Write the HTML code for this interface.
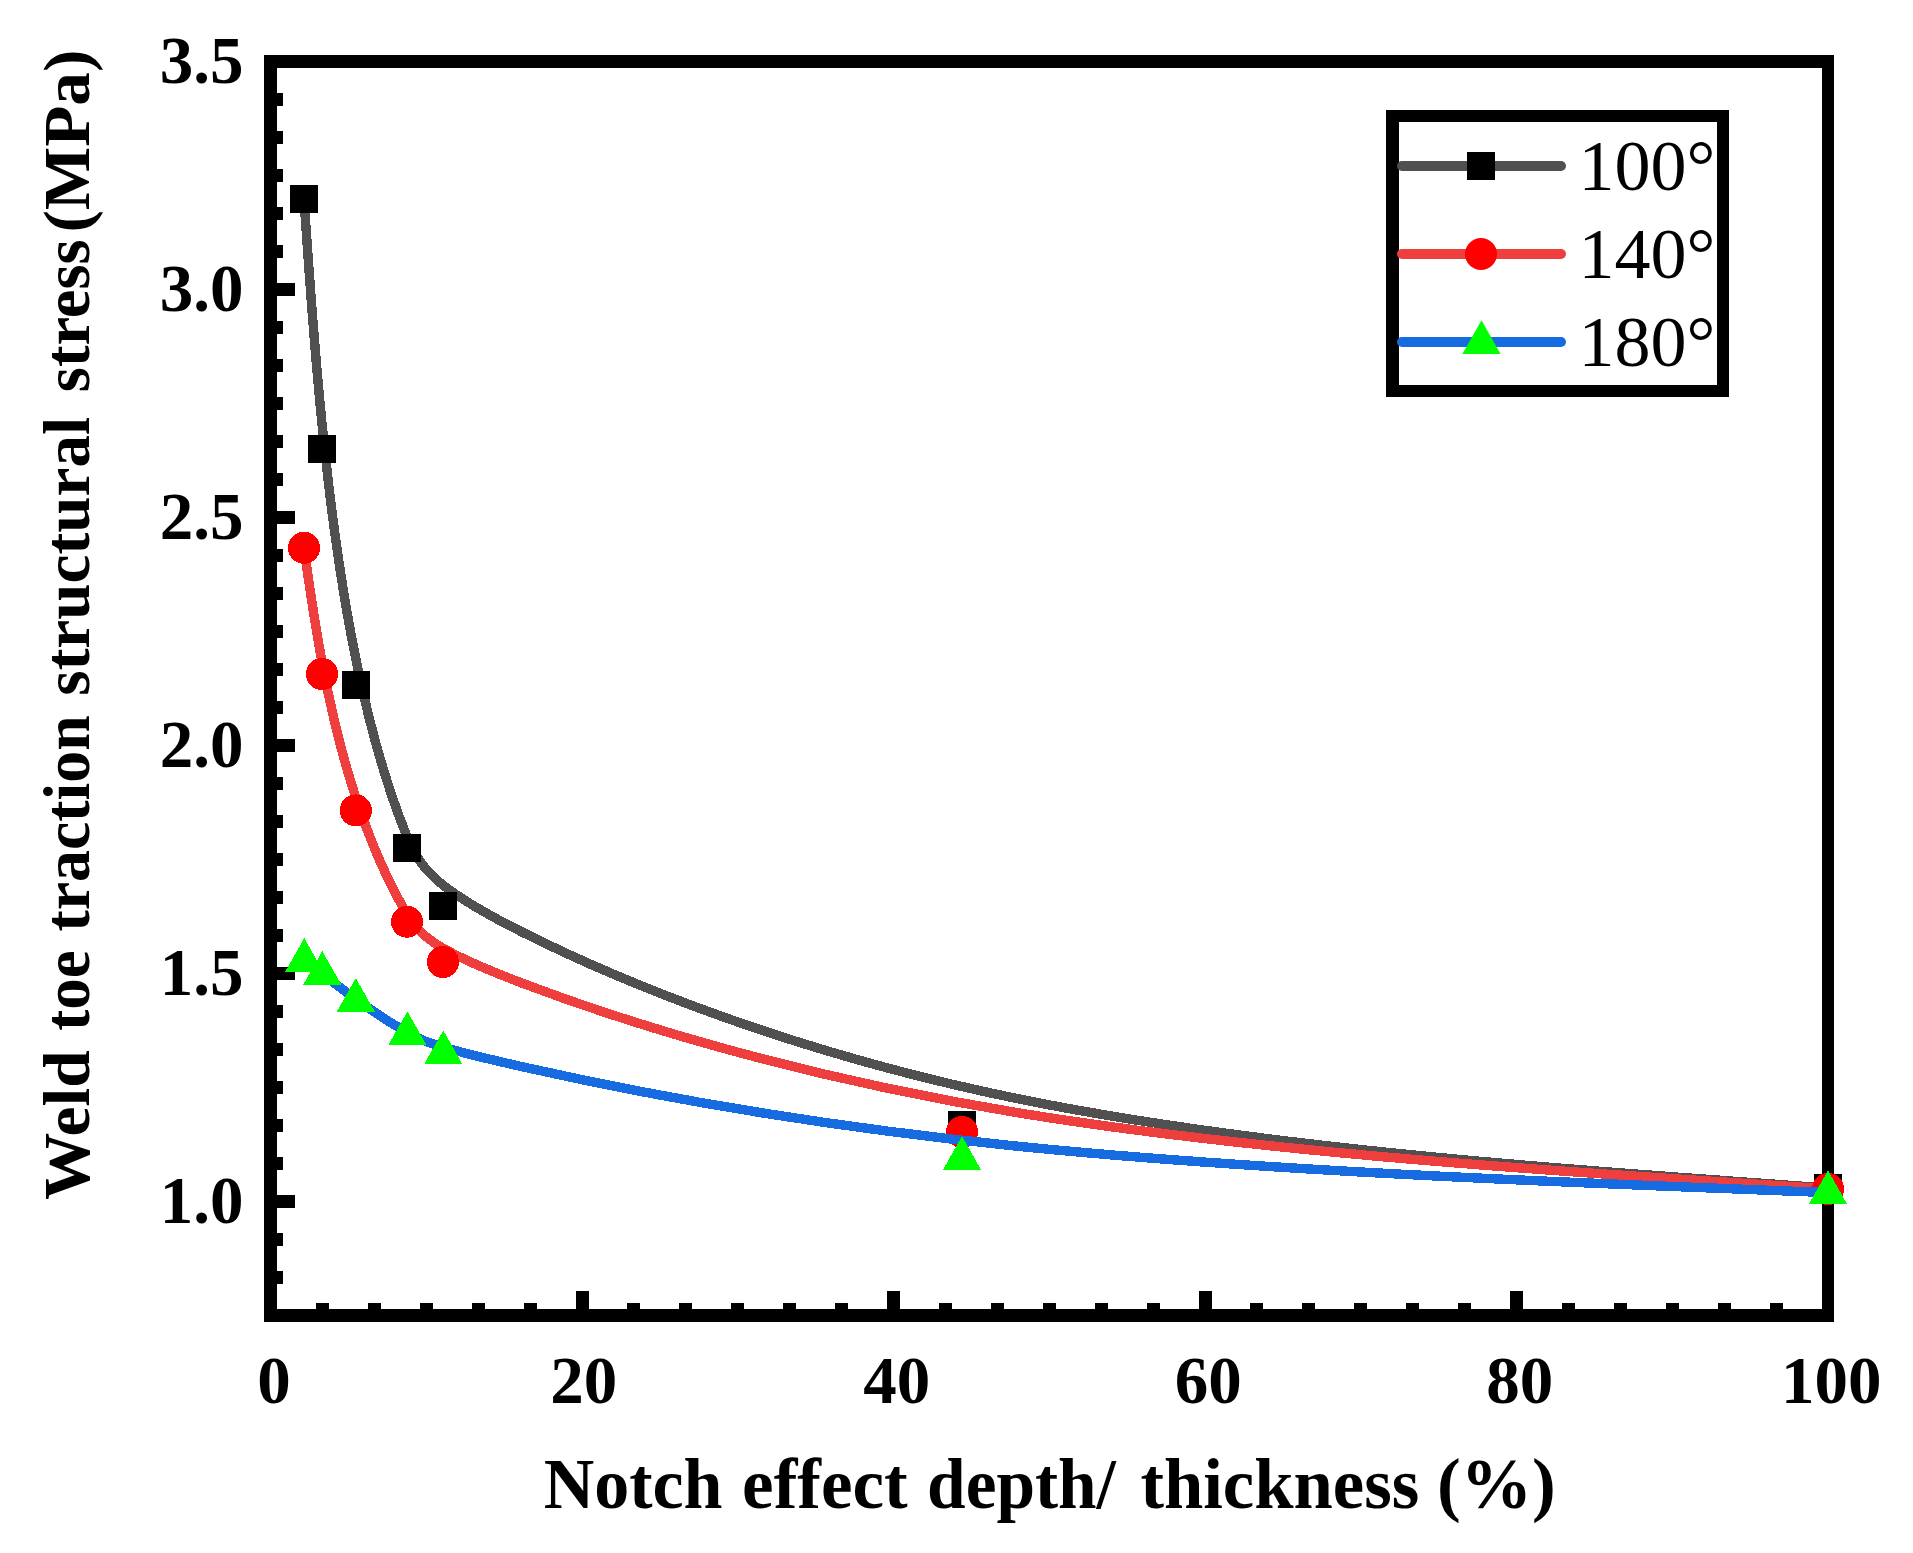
<!DOCTYPE html>
<html><head><meta charset="utf-8"><title>Chart</title>
<style>
html,body{margin:0;padding:0;background:#fff;overflow:hidden;}
svg{display:block;}
text{font-family:"Liberation Serif",serif;fill:#000;}
.b{font-weight:bold;}
</style></head><body>
<svg width="1913" height="1553" viewBox="0 0 1913 1553">
<rect width="1913" height="1553" fill="#fff"/>
<g fill="#000" shape-rendering="crispEdges">
<rect x="264" y="55" width="13" height="1267"/>
<rect x="1822" y="55" width="12" height="1267"/>
<rect x="264" y="55" width="1570" height="13"/>
<rect x="264" y="1309" width="1570" height="13"/>
<rect x="277" y="93" width="6" height="13"/>
<rect x="277" y="131" width="6" height="13"/>
<rect x="277" y="169" width="6" height="13"/>
<rect x="277" y="207" width="6" height="13"/>
<rect x="277" y="245" width="6" height="13"/>
<rect x="277" y="283" width="18" height="13"/>
<rect x="277" y="321" width="6" height="13"/>
<rect x="277" y="359" width="6" height="13"/>
<rect x="277" y="397" width="6" height="13"/>
<rect x="277" y="435" width="6" height="13"/>
<rect x="277" y="473" width="6" height="13"/>
<rect x="277" y="511" width="18" height="13"/>
<rect x="277" y="549" width="6" height="13"/>
<rect x="277" y="587" width="6" height="13"/>
<rect x="277" y="625" width="6" height="13"/>
<rect x="277" y="663" width="6" height="13"/>
<rect x="277" y="701" width="6" height="13"/>
<rect x="277" y="739" width="18" height="13"/>
<rect x="277" y="777" width="6" height="13"/>
<rect x="277" y="815" width="6" height="13"/>
<rect x="277" y="853" width="6" height="13"/>
<rect x="277" y="891" width="6" height="13"/>
<rect x="277" y="929" width="6" height="13"/>
<rect x="277" y="967" width="18" height="13"/>
<rect x="277" y="1005" width="6" height="13"/>
<rect x="277" y="1043" width="6" height="13"/>
<rect x="277" y="1081" width="6" height="13"/>
<rect x="277" y="1119" width="6" height="13"/>
<rect x="277" y="1157" width="6" height="13"/>
<rect x="277" y="1195" width="18" height="13"/>
<rect x="277" y="1233" width="6" height="13"/>
<rect x="277" y="1271" width="6" height="13"/>
<rect x="316" y="1303" width="13" height="6"/>
<rect x="368" y="1303" width="13" height="6"/>
<rect x="420" y="1303" width="13" height="6"/>
<rect x="472" y="1303" width="13" height="6"/>
<rect x="524" y="1303" width="13" height="6"/>
<rect x="576" y="1291" width="13" height="18"/>
<rect x="627" y="1303" width="13" height="6"/>
<rect x="679" y="1303" width="13" height="6"/>
<rect x="731" y="1303" width="13" height="6"/>
<rect x="783" y="1303" width="13" height="6"/>
<rect x="835" y="1303" width="13" height="6"/>
<rect x="887" y="1291" width="13" height="18"/>
<rect x="939" y="1303" width="13" height="6"/>
<rect x="991" y="1303" width="13" height="6"/>
<rect x="1043" y="1303" width="13" height="6"/>
<rect x="1095" y="1303" width="13" height="6"/>
<rect x="1147" y="1303" width="13" height="6"/>
<rect x="1199" y="1291" width="13" height="18"/>
<rect x="1250" y="1303" width="13" height="6"/>
<rect x="1302" y="1303" width="13" height="6"/>
<rect x="1354" y="1303" width="13" height="6"/>
<rect x="1406" y="1303" width="13" height="6"/>
<rect x="1458" y="1303" width="13" height="6"/>
<rect x="1510" y="1291" width="13" height="18"/>
<rect x="1562" y="1303" width="13" height="6"/>
<rect x="1614" y="1303" width="13" height="6"/>
<rect x="1666" y="1303" width="13" height="6"/>
<rect x="1718" y="1303" width="13" height="6"/>
<rect x="1770" y="1303" width="13" height="6"/>
</g>
<text class="b" x="243.6" y="82.5" font-size="67" text-anchor="end">3.5</text>
<text class="b" x="243.6" y="310.5" font-size="67" text-anchor="end">3.0</text>
<text class="b" x="243.6" y="538.5" font-size="67" text-anchor="end">2.5</text>
<text class="b" x="243.6" y="766.5" font-size="67" text-anchor="end">2.0</text>
<text class="b" x="243.6" y="994.5" font-size="67" text-anchor="end">1.5</text>
<text class="b" x="243.6" y="1222.5" font-size="67" text-anchor="end">1.0</text>
<text class="b" x="273.9" y="1403.2" font-size="67" text-anchor="middle">0</text>
<text class="b" x="583.8" y="1403.2" font-size="67" text-anchor="middle">20</text>
<text class="b" x="896.7" y="1403.2" font-size="67" text-anchor="middle">40</text>
<text class="b" x="1208.2" y="1403.2" font-size="67" text-anchor="middle">60</text>
<text class="b" x="1519.7" y="1403.2" font-size="67" text-anchor="middle">80</text>
<text class="b" x="1831.2" y="1403.2" font-size="67" text-anchor="middle">100</text>
<text class="b" font-size="72" y="1507.7"><tspan x="543.7" textLength="178.8" lengthAdjust="spacingAndGlyphs">Notch</tspan> <tspan x="742.1" textLength="165.6" lengthAdjust="spacingAndGlyphs">effect</tspan> <tspan x="927.1" textLength="188.8" lengthAdjust="spacingAndGlyphs">depth/</tspan> <tspan x="1140.4" textLength="278.8" lengthAdjust="spacingAndGlyphs">thickness</tspan> <tspan x="1436.9" textLength="118.8" lengthAdjust="spacingAndGlyphs">(%)</tspan></text>
<text class="b" font-size="66" transform="translate(89,1200) rotate(-90)" y="0"><tspan x="-0.1" textLength="149.8" lengthAdjust="spacingAndGlyphs">Weld</tspan> <tspan x="169.3" textLength="80.5" lengthAdjust="spacingAndGlyphs">toe</tspan> <tspan x="268.5" textLength="216.2" lengthAdjust="spacingAndGlyphs">traction</tspan> <tspan x="504.3" textLength="278.8" lengthAdjust="spacingAndGlyphs">structural</tspan> <tspan x="807.8" textLength="152.9" lengthAdjust="spacingAndGlyphs">stress</tspan> <tspan x="967.4" textLength="182.9" lengthAdjust="spacingAndGlyphs">(MPa)</tspan></text>
<g shape-rendering="crispEdges">
<path d="M304.00,199.00 C304.00,199.00 304.00,199.00 306.92,240.58 C309.83,282.17 315.67,365.33 324.33,446.40 C333.00,527.47 344.50,606.43 358.75,672.98 C373.00,739.53 390.00,793.67 404.52,830.42 C419.03,867.17 431.07,886.53 523.48,932.75 C615.90,978.97 788.70,1052.03 1019.52,1099.07 C1250.33,1146.10 1539.17,1167.10 1683.58,1177.60 C1828.00,1188.10 1828.00,1188.10 1828.00,1188.10" fill="none" stroke="#505050" stroke-width="9.4" stroke-linejoin="round" stroke-linecap="butt"/>
<rect x="290.0" y="185.0" width="28" height="28" fill="#000"/>
<rect x="307.5" y="434.5" width="28" height="28" fill="#000"/>
<rect x="342.0" y="671.4" width="28" height="28" fill="#000"/>
<rect x="393.0" y="833.8" width="28" height="28" fill="#000"/>
<rect x="429.1" y="891.9" width="28" height="28" fill="#000"/>
<rect x="947.5" y="1111.1" width="28" height="28" fill="#000"/>
<rect x="1814.0" y="1174.1" width="28" height="28" fill="#000"/>
<path d="M304.00,547.80 C304.00,547.80 304.00,547.80 307.00,568.83 C310.00,589.87 316.00,631.93 324.63,675.70 C333.27,719.47 344.53,764.93 358.70,806.22 C372.87,847.50 389.93,884.60 404.45,909.87 C418.97,935.13 430.93,948.57 523.43,983.60 C615.93,1018.63 788.97,1075.27 1019.82,1113.08 C1250.67,1150.90 1539.33,1169.90 1683.67,1179.40 C1828.00,1188.90 1828.00,1188.90 1828.00,1188.90" fill="none" stroke="#ef3e3e" stroke-width="9.4" stroke-linejoin="round" stroke-linecap="butt"/>
<circle cx="304.0" cy="547.8" r="16" fill="#ff0000"/>
<circle cx="322.0" cy="674.0" r="16" fill="#ff0000"/>
<circle cx="355.8" cy="810.4" r="16" fill="#ff0000"/>
<circle cx="407.0" cy="921.7" r="16" fill="#ff0000"/>
<circle cx="442.9" cy="962.0" r="16" fill="#ff0000"/>
<circle cx="962.0" cy="1131.9" r="16" fill="#ff0000"/>
<circle cx="1828.0" cy="1188.9" r="16" fill="#ff0000"/>
<path d="M304.30,960.30 C304.30,960.30 304.30,960.30 307.30,962.47 C310.30,964.63 316.30,968.97 324.88,975.63 C333.47,982.30 344.63,991.30 358.82,1001.35 C373.00,1011.40 390.20,1022.50 404.78,1031.22 C419.37,1039.93 431.33,1046.27 523.77,1067.07 C616.20,1087.87 789.10,1123.13 1019.88,1146.47 C1250.67,1169.80 1539.33,1181.20 1683.67,1186.90 C1828.00,1192.60 1828.00,1192.60 1828.00,1192.60" fill="none" stroke="#176be0" stroke-width="9.4" stroke-linejoin="round" stroke-linecap="butt"/>
<polygon points="304.3,938.1 285.2,971.8 323.4,971.8" fill="#00ff00"/>
<polygon points="322.3,951.1 303.2,984.8 341.4,984.8" fill="#00ff00"/>
<polygon points="355.8,978.1 336.7,1011.8 374.9,1011.8" fill="#00ff00"/>
<polygon points="407.4,1011.4 388.3,1045.1 426.5,1045.1" fill="#00ff00"/>
<polygon points="443.3,1030.4 424.2,1064.1 462.4,1064.1" fill="#00ff00"/>
<polygon points="962.0,1136.2 942.9,1169.9 981.1,1169.9" fill="#00ff00"/>
<polygon points="1828.0,1170.4 1808.9,1204.1 1847.1,1204.1" fill="#00ff00"/>
</g>
<g fill="#000" shape-rendering="crispEdges"><rect x="1386" y="110" width="13" height="287"/><rect x="1717" y="110" width="12" height="287"/><rect x="1386" y="110" width="343" height="12"/><rect x="1386" y="385" width="343" height="12"/></g>
<line x1="1402" y1="166" x2="1561" y2="166" stroke="#505050" stroke-width="10" stroke-linecap="round"/>
<line x1="1402" y1="254" x2="1561" y2="254" stroke="#ef3e3e" stroke-width="10" stroke-linecap="round"/>
<line x1="1402" y1="342" x2="1561" y2="342" stroke="#176be0" stroke-width="10" stroke-linecap="round"/>
<rect x="1467" y="152" width="28" height="28" fill="#000"/>
<circle cx="1481" cy="254" r="16" fill="#ff0000"/>
<polygon points="1481.5,320.3 1462.4,354.0 1500.6,354.0" fill="#00ff00"/>
<text x="1578.5" y="190" font-size="72">100°</text>
<text x="1578.5" y="278" font-size="72">140°</text>
<text x="1578.5" y="366" font-size="72">180°</text>
</svg>
</body></html>
